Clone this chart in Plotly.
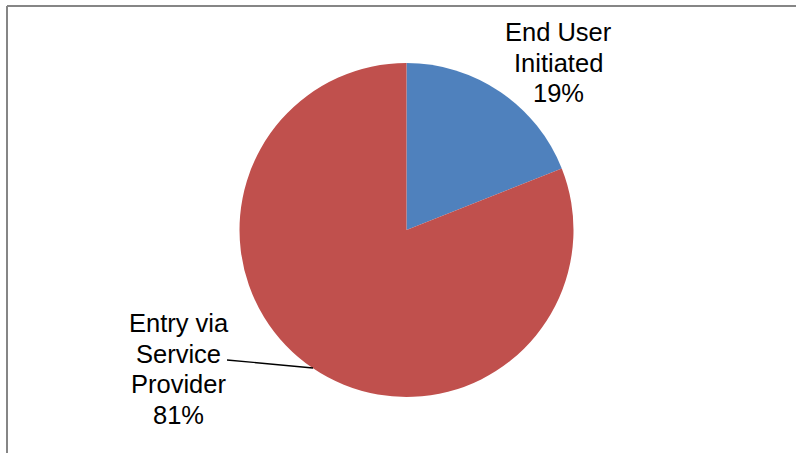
import plotly.graph_objects as go

# Share of entries by origin
labels = ["End User<br>Initiated", "Entry via<br>Service<br>Provider"]
values = [19, 81]
colors = ["#4F81BD", "#C0504D"]

W, H = 796, 453
cx, cy, r = 406.5, 230, 167  # pie centre and radius in pixels


def px_x(x):
    return x / W


def px_y(y):
    return 1 - y / H


fig = go.Figure(
    go.Pie(
        labels=labels,
        values=values,
        marker=dict(colors=colors, line=dict(width=0)),
        sort=False,
        direction="clockwise",
        rotation=0,
        textinfo="none",
        hoverinfo="label+percent",
        showlegend=False,
        domain=dict(
            x=[px_x(cx - r), px_x(cx + r)],
            y=[px_y(cy + r), px_y(cy - r)],
        ),
    )
)

total = sum(values)
# label block centre (x) and first-line centre (y), pixels
label_pos = [(558.5, 32), (178.5, 323)]
line_gap = 30.5
annotations = []
for lab, val, (lx, ly) in zip(labels, values, label_pos):
    lines = lab.split("<br>") + [f"{round(100 * val / total)}%"]
    for i, txt in enumerate(lines):
        annotations.append(
            dict(
                x=px_x(lx),
                y=px_y(ly + i * line_gap),
                xref="paper",
                yref="paper",
                text=txt,
                showarrow=False,
                xanchor="center",
                yanchor="middle",
                font=dict(family="Liberation Sans, Arial, sans-serif", size=25.5, color="#000000"),
            )
        )

shapes = [
    # chart area frame (top and left edges fall inside the view)
    dict(type="line", xref="paper", yref="paper",
         x0=px_x(7), y0=px_y(6), x1=1.2, y1=px_y(6),
         line=dict(color="#868686", width=2)),
    dict(type="line", xref="paper", yref="paper",
         x0=px_x(7), y0=px_y(6), x1=px_x(7), y1=-0.2,
         line=dict(color="#868686", width=2)),
    # leader line for the large slice label
    dict(type="line", xref="paper", yref="paper",
         x0=px_x(227), y0=px_y(360), x1=px_x(313), y1=px_y(368),
         line=dict(color="#000000", width=1.3)),
]

fig.update_layout(
    width=W,
    height=H,
    margin=dict(l=0, r=0, t=0, b=0),
    paper_bgcolor="#FFFFFF",
    plot_bgcolor="#FFFFFF",
    annotations=annotations,
    shapes=shapes,
)

fig.write_html("out.html")
